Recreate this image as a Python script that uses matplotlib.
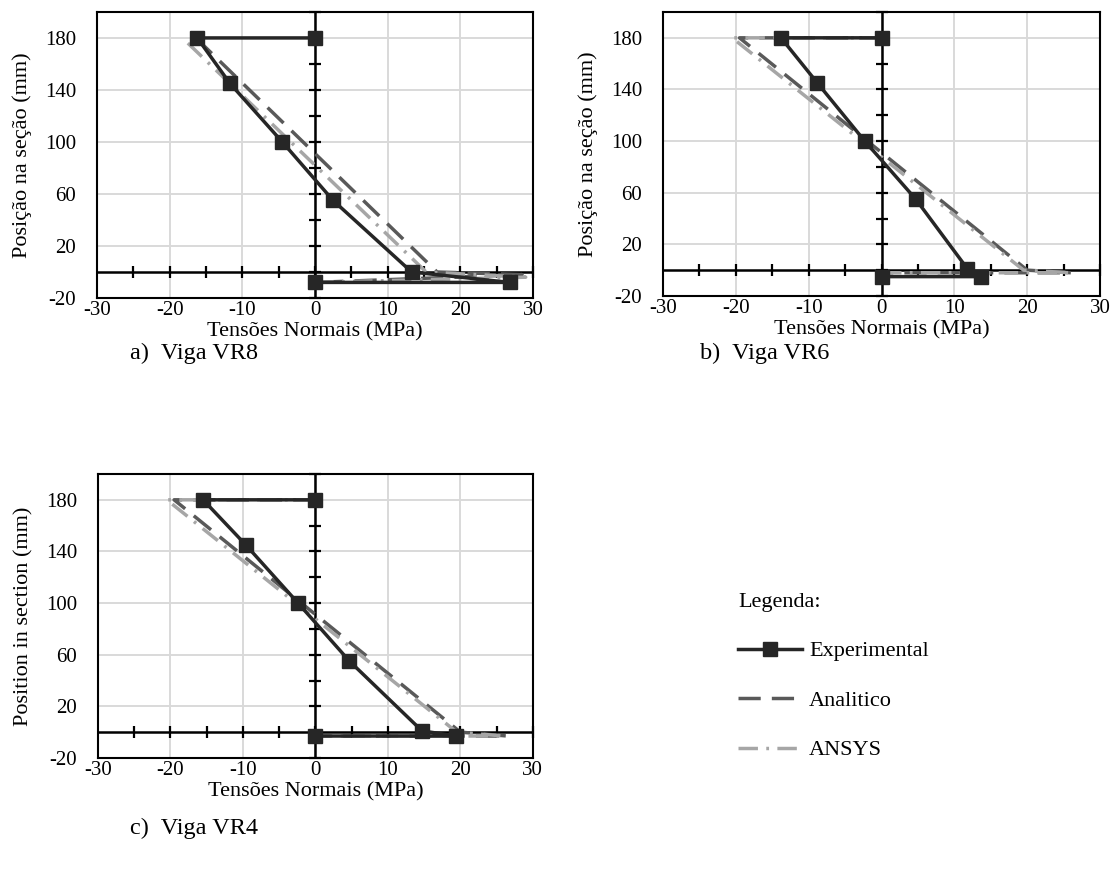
import numpy as np
import matplotlib
matplotlib.use("Agg")
import matplotlib.pyplot as plt

plt.rcParams['font.family'] = ['Liberation Serif', 'DejaVu Serif']
plt.rcParams['lines.scale_dashes'] = False
plt.rcParams['axes.unicode_minus'] = False

# Data (tension in MPa, position in mm)
vr8_exp_x = [0, -16.2, -11.7, -4.5, 2.5, 13.3, 26.8, 0]
vr8_exp_y = [180, 180, 145, 100, 55, 0, -8, -8]
vr8_ana_x = [-16.4, 16.8, 28.5, 0]
vr8_ana_y = [180, 0, -2, -8]
vr8_ans_x = [-17.5, 15.3, 29.0, 0]
vr8_ans_y = [176, 0, -4, -8]

vr6_exp_x = [0, -13.8, -8.8, -2.3, 4.7, 11.8, 13.6, 0]
vr6_exp_y = [180, 180, 145, 100, 55, 1, -5, -5]
vr6_ana_x = [0, -19.5, 20.0, 26.0, 0]
vr6_ana_y = [180, 180, 0, -2, -2]
vr6_ans_x = [0, -20.5, 19.5, 26.0, 0]
vr6_ans_y = [180, 180, 0, -2, -2]

vr4_exp_x = [0, -15.5, -9.6, -2.4, 4.7, 14.7, 19.4, 0]
vr4_exp_y = [180, 180, 145, 100, 55, 1, -3, -3]
vr4_ana_x = [0, -19.5, 20.0, 26.5, 0]
vr4_ana_y = [180, 180, 0, -3, -3]
vr4_ans_x = [0, -20.5, 19.5, 26.0, 0]
vr4_ans_y = [180, 180, 0, -3, -3]

x_ticks = [-30, -20, -10, 0, 10, 20, 30]
y_ticks = [-20, 20, 60, 100, 140, 180]
series_labels = ["Experimental", "Analitico", "ANSYS"]

c_exp = "#262626"
c_ana = "#595959"
c_ans = "#a6a6a6"

fig = plt.figure(figsize=(11.15, 8.83), dpi=100, facecolor="white")


def draw(rect, ex, ey, ax_, ay_, nx, ny, ylabel, caption, cap_xy):
    ax = fig.add_axes(rect)
    ax.set_xlim(-30, 30)
    ax.set_ylim(-20, 200)
    ax.set_xticks(x_ticks)
    ax.set_yticks(y_ticks)
    ax.grid(True, color="#d9d9d9", linewidth=1.4)
    ax.set_axisbelow(True)
    ax.tick_params(length=0, labelsize=15)
    ax.tick_params(axis='y', pad=15)
    ax.tick_params(axis='x', pad=2)
    for s in ax.spines.values():
        s.set_linewidth(1.5)
        s.set_color("black")
    # axes through zero with cross ticks
    ax.axhline(0, color="black", linewidth=1.8, zorder=2)
    ax.axvline(0, color="black", linewidth=1.8, zorder=2)
    xt = np.arange(-25, 31, 5)
    ax.plot(xt, np.zeros(xt.size), ls="none", marker="|", ms=9,
            mew=1.6, color="black", zorder=2, clip_on=False)
    yt = np.arange(-20, 201, 20)
    ax.plot(np.zeros(yt.size), yt, ls="none", marker="_", ms=9,
            mew=1.6, color="black", zorder=2, clip_on=False)

    l1, = ax.plot(ex, ey, color=c_exp, linewidth=2.5, marker="s",
                  markersize=10, zorder=5)
    l2, = ax.plot(ax_, ay_, color=c_ana, linewidth=2.5, zorder=4)
    l2.set_dashes((16, 8))
    l3, = ax.plot(nx, ny, color=c_ans, linewidth=2.5, zorder=4)
    l3.set_dashes((14, 6, 2, 6))

    ax.set_xlabel("Tensões Normais (MPa)", fontsize=16, labelpad=2)
    ax.set_ylabel(ylabel, fontsize=16, labelpad=9)
    fig.text(cap_xy[0], cap_xy[1], caption, fontsize=17.5, va="center")
    return [l1, l2, l3]


handles = draw([0.087, 0.6625, 0.391, 0.324],
               vr8_exp_x, vr8_exp_y, vr8_ana_x, vr8_ana_y, vr8_ans_x, vr8_ans_y,
               "Posição na seção (mm)", "a)  Viga VR8", (130 / 1115, 1 - 353 / 883))
draw([0.5946, 0.6648, 0.392, 0.3216],
     vr6_exp_x, vr6_exp_y, vr6_ana_x, vr6_ana_y, vr6_ans_x, vr6_ans_y,
     "Posição na seção (mm)", "b)  Viga VR6", (700 / 1115, 1 - 353 / 883))
draw([0.0879, 0.1416, 0.390, 0.3216],
     vr4_exp_x, vr4_exp_y, vr4_ana_x, vr4_ana_y, vr4_ans_x, vr4_ans_y,
     "Position in section (mm)", "c)  Viga VR4", (130 / 1115, 1 - 828 / 883))

leg = fig.legend(handles, series_labels, loc="upper left",
                 bbox_to_anchor=(718 / 1115, 1 - 573 / 883), frameon=False,
                 title="Legenda:", alignment="left", fontsize=16,
                 title_fontsize=16, labelspacing=1.3, handlelength=2.9,
                 handletextpad=0.3)

fig.savefig("out.png", dpi=100, facecolor="white")
